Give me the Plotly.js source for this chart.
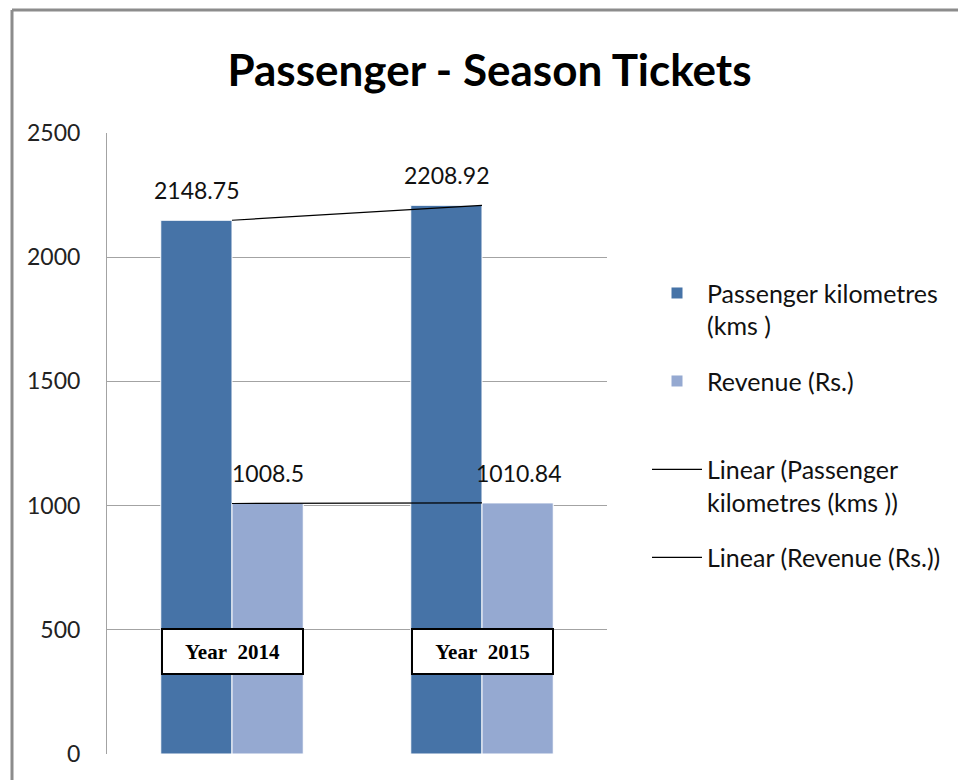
<!DOCTYPE html>
<html>
<head>
<meta charset="utf-8">
<script src="https://cdn.plot.ly/plotly-3.0.1.min.js"></script>
<style>
  body { margin: 0; background: #fff; }
  #chart { width: 958px; height: 780px; }
  /* wide strip swatches for the bar series, like the original legend */
  #chart path.legendbar { d: path("M24,5H-26V-5H24Z"); }
</style>
</head>
<body>
<div id="chart"></div>
<script>
// values
const years = ["Year 2014", "Year 2015"];
const passengerKms = [2148.75, 2208.92];
const revenue = [1008.5, 1010.84];
const barNames = ["Passenger kilometres<br>(kms )", "Revenue (Rs.)"];
const trendNames = ["Linear (Passenger<br>kilometres (kms ))", "Linear (Revenue (Rs.))"];
const yTicks = [0, 500, 1000, 1500, 2000, 2500];

const darkBlue = "#4673a7";
const lightBlue = "#95a9d1";
const sans = "Lato, 'Open Sans', sans-serif";

function plotSeason() {
  const data = [
    {
      x: years, y: passengerKms, name: barNames[0], type: "bar",
      marker: { color: darkBlue, line: { color: "#ffffff", width: 1 } },
      legend: "legend", legendgroup: "a", hoverinfo: "y"
    },
    {
      x: years, y: revenue, name: barNames[1], type: "bar",
      marker: { color: lightBlue, line: { color: "#ffffff", width: 1 } },
      legend: "legend", legendgroup: "b", hoverinfo: "y"
    },
    {
      x: years, y: passengerKms, name: trendNames[0], type: "scatter", mode: "lines",
      line: { color: "#000", width: 1.2 }, legend: "legend2", legendgroup: "c", hoverinfo: "skip"
    },
    {
      x: years, y: revenue, name: trendNames[1], type: "scatter", mode: "lines",
      line: { color: "#000", width: 1.2 }, legend: "legend2", legendgroup: "d", hoverinfo: "skip"
    }
  ];

  // value labels above the bars
  const annotations = [];
  [passengerKms, revenue].forEach((vals, s) => {
    vals.forEach((v, i) => {
      annotations.push({
        x: years[i], y: v, text: String(v), showarrow: false,
        yanchor: "bottom", yshift: 14, xshift: s === 0 ? -36 : 36,
        font: { family: sans, size: 23, color: "#111" }
      });
    });
  });

  // boxed category labels
  years.forEach((yr) => {
    annotations.push({
      x: yr, y: 413, text: yr.replace(" ", "\u00a0\u00a0"), showarrow: false,
      font: { family: "'Liberation Serif', 'Times New Roman', serif", size: 21, color: "#000", weight: "bold" },
      bgcolor: "#fff", bordercolor: "#000", borderwidth: 2, borderpad: 0,
      width: 139, height: 43
    });
  });

  const legendBase = {
    xanchor: "left", yanchor: "top", valign: "top", bgcolor: "rgba(0,0,0,0)",
    font: { family: sans, size: 25, color: "#111" },
    itemwidth: 50, tracegroupgap: 20, itemclick: false, itemdoubleclick: false
  };

  const layout = {
    width: 958, height: 780,
    margin: { l: 107, r: 351, t: 133, b: 26 },
    paper_bgcolor: "#fff", plot_bgcolor: "#fff",
    title: {
      text: "Passenger - Season Tickets",
      font: { family: sans, size: 44, color: "#000", weight: "bold" },
      x: 0.511, xanchor: "center", y: 0.91, yanchor: "middle"
    },
    barmode: "group",
    bargap: 0.43,
    bargroupgap: 0,
    showlegend: true,
    legend: Object.assign({}, legendBase, { x: 1.08, y: 0.779 }),
    legend2: Object.assign({}, legendBase, { x: 1.08, y: 0.495 }),
    xaxis: {
      type: "category", range: [-0.5, 1.5],
      showticklabels: false, showgrid: false, zeroline: false, showline: false
    },
    yaxis: {
      range: [0, 2500], tickvals: yTicks,
      showgrid: true, gridcolor: "#a3a3a3", gridwidth: 1,
      showline: true, linecolor: "#a3a3a3", linewidth: 1,
      zeroline: false, ticks: "", ticklabelstandoff: 21,
      tickfont: { family: sans, size: 23, color: "#222" }
    },
    annotations: annotations,
    shapes: [
      { type: "line", xref: "paper", yref: "paper", x0: -0.19, x1: -0.19, y0: 1.198, y1: -0.05,
        line: { color: "#8c8c8c", width: 3 } },
      { type: "line", xref: "paper", yref: "paper", x0: -0.19, x1: 1.71, y0: 1.198, y1: 1.198,
        line: { color: "#8c8c8c", width: 3 } }
    ]
  };

  const gd = document.getElementById("chart");
  Plotly.newPlot(gd, data, layout, { displayModeBar: false, staticPlot: true });
}

plotSeason();
</script>
</body>
</html>
